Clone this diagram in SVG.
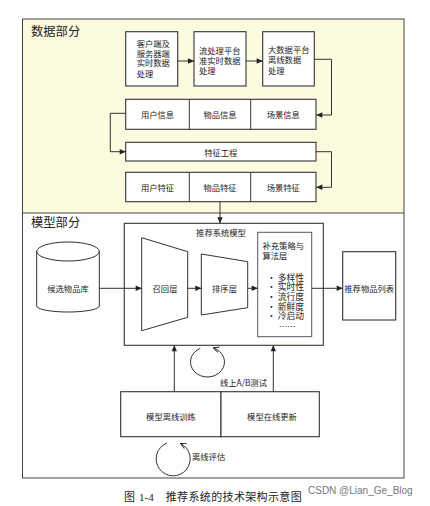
<svg xmlns="http://www.w3.org/2000/svg" width="430" height="506" viewBox="0 0 430 506">
<style>
.t{font-family:"Noto Sans CJK SC","Liberation Sans",sans-serif;font-size:8.3px;fill:#222}
.b{font-family:"Noto Sans CJK SC","Liberation Sans",sans-serif;font-size:8.8px;fill:#222}
.c{text-anchor:middle;dominant-baseline:central}
.h{font-family:"Noto Sans CJK SC","Liberation Sans",sans-serif;font-size:12.3px;fill:#222}
.box{fill:#fff;stroke:#333;stroke-width:1.1}
.ln{fill:none;stroke:#333;stroke-width:1}
.arr{fill:none;stroke:#333;stroke-width:1;marker-end:url(#ah)}
.cir{fill:none;stroke:#333;stroke-width:1;marker-end:url(#oh)}
</style>
<defs>
<marker id="ah" viewBox="0 0 10 10" refX="10" refY="5" markerUnits="userSpaceOnUse" markerWidth="7" markerHeight="6" orient="auto">
<path d="M0,0.5 L10,5 L0,9.5 z" fill="#222"/>
</marker>
<marker id="oh" viewBox="0 0 10 10" refX="9" refY="5" markerUnits="userSpaceOnUse" markerWidth="7" markerHeight="7" orient="auto">
<path d="M1,1 L9,5 L1,9" fill="none" stroke="#222" stroke-width="1.3"/>
</marker>
</defs>
<rect width="430" height="506" fill="#ffffff"/>
<g id="frame">
<rect x="22.5" y="19" width="381.5" height="194" fill="#fcfadf"/>
<rect x="22.5" y="213" width="381.5" height="265" fill="#fdfdfb"/>
<rect x="22.5" y="19" width="381.5" height="459" fill="none" stroke="#444" stroke-width="1"/>
<line x1="22.5" y1="213" x2="404" y2="213" stroke="#444" stroke-width="1"/>
<text class="h" x="31" y="35.5">数据部分</text>
<text class="h" x="31" y="226.5">模型部分</text>
</g>
<g id="client">
<rect class="box" x="125.7" y="31.7" width="52" height="54.3"/>
<text class="t" x="136.7" y="47">客户端及</text>
<text class="t" x="136.7" y="56.7">服务器端</text>
<text class="t" x="136.7" y="66.4">实时数据</text>
<text class="t" x="136.7" y="76.8">处理</text>
</g>
<g id="stream">
<rect class="box" x="194" y="31.7" width="52" height="54.3"/>
<text class="t" x="199" y="54">流处理平台</text>
<text class="t" x="199" y="64">准实时数据</text>
<text class="t" x="199" y="73.7">处理</text>
</g>
<g id="bigdata">
<rect class="box" x="262.7" y="31.7" width="51.6" height="54.3"/>
<text class="t" x="268" y="53">大数据平台</text>
<text class="t" x="268" y="63">离线数据</text>
<text class="t" x="268" y="73.7">处理</text>
</g>
<g id="info">
<rect class="box" x="125.7" y="99.3" width="190.3" height="30"/>
<line class="ln" x1="189.3" y1="99.3" x2="189.3" y2="129.3"/>
<line class="ln" x1="250.7" y1="99.3" x2="250.7" y2="129.3"/>
<text class="t c" x="157.5" y="114.3">用户信息</text>
<text class="t c" x="220" y="114.3">物品信息</text>
<text class="t c" x="283.3" y="114.3">场景信息</text>
</g>
<g id="feature-eng">
<rect class="box" x="125.7" y="142.3" width="190.3" height="18.7"/>
<text class="t c" x="220.8" y="151.7">特征工程</text>
</g>
<g id="features">
<rect class="box" x="125.7" y="172.3" width="190.3" height="29.4"/>
<line class="ln" x1="189.3" y1="172.3" x2="189.3" y2="201.7"/>
<line class="ln" x1="250.7" y1="172.3" x2="250.7" y2="201.7"/>
<text class="t c" x="157.5" y="187.3">用户特征</text>
<text class="t c" x="220" y="187.3">物品特征</text>
<text class="t c" x="283.3" y="187.3">场景特征</text>
</g>
<g id="model">
<rect class="box" x="124.3" y="223.3" width="199" height="122"/>
<text class="t c" x="221" y="231.7">推荐系统模型</text>
</g>
<g id="recall">
<path d="M141.7,237.7 L187.7,251.7 L187.7,317.3 L141.7,330.7 Z" fill="#fff" stroke="#333" stroke-width="1"/>
<text class="t c" x="165" y="288.3">召回层</text>
</g>
<g id="rank">
<path d="M201.3,254 L247.7,261.7 L247.7,307.7 L201.3,315 Z" fill="#fff" stroke="#333" stroke-width="1"/>
<text class="t c" x="224.5" y="288.3">排序层</text>
</g>
<g id="strategy">
<rect x="257.7" y="232.3" width="54" height="104.4" fill="#fff" stroke="#556" stroke-width="1"/>
<text class="t" x="262.5" y="249">补充策略与</text>
<text class="t" x="262.5" y="259">算法层</text>
<text class="b" x="267" y="280.5">· 多样性</text>
<text class="b" x="267" y="290.2">· 实时性</text>
<text class="b" x="267" y="299.9">· 流行度</text>
<text class="b" x="267" y="309.6">· 新鲜度</text>
<text class="b" x="267" y="319.3">· 冷启动</text>
<text class="t" x="279" y="329.5">……</text>
</g>
<g id="candidates">
<path d="M36.7,251.5 A31.3,9.5 0 0 1 99.3,251.5 L99.3,306 A31.3,6 0 0 1 36.7,306 Z" fill="#fff" stroke="#333" stroke-width="1"/>
<path d="M36.7,251.5 A31.3,9.5 0 0 0 99.3,251.5" fill="none" stroke="#333" stroke-width="1"/>
<text class="t c" x="68" y="288.3">候选物品库</text>
</g>
<g id="result">
<rect class="box" x="342.7" y="251.7" width="53" height="68.3"/>
<text class="t c" x="369.2" y="288.3">推荐物品列表</text>
</g>
<g id="offline-train">
<rect class="box" x="120.7" y="391.7" width="100.3" height="45"/>
<text class="t c" x="171" y="416">模型离线训练</text>
</g>
<g id="online-update">
<rect class="box" x="221" y="391.7" width="98.3" height="45"/>
<text class="t c" x="272" y="416">模型在线更新</text>
</g>
<g id="connectors">
<line class="arr" x1="177.7" y1="61" x2="194" y2="61"/>
<line class="arr" x1="246" y1="61" x2="262.7" y2="61"/>
<polyline class="arr" points="314.3,59.3 331.5,59.3 331.5,115 316.3,115"/>
<polyline class="arr" points="125.7,113.3 110.3,113.3 110.3,151.7 125.7,151.7"/>
<polyline class="arr" points="316,151.7 331.5,151.7 331.5,187.3 316.3,187.3"/>
<line class="arr" x1="220" y1="201.7" x2="220" y2="223.3"/>
<line class="arr" x1="99.3" y1="288.3" x2="141.7" y2="288.3"/>
<line class="arr" x1="187.7" y1="288.3" x2="201.3" y2="288.3"/>
<line class="arr" x1="247.7" y1="288.3" x2="257.7" y2="288.3"/>
<line class="arr" x1="311.7" y1="288.3" x2="342.7" y2="288.3"/>
<line class="arr" x1="174.3" y1="391.7" x2="174.3" y2="345.3"/>
<line class="arr" x1="273.3" y1="391.7" x2="273.3" y2="345.3"/>
<path class="cir" d="M200.3,348.4 A17,15 0 1 0 213.3,347.9"/>
<path class="cir" d="M167,443 A17,17 0 1 0 180.5,443.5"/>
</g>
<g id="labels">
<text class="t" x="220" y="386.3">线上A/B测试</text>
<text class="t" x="192" y="459.8">离线评估</text>
</g>
<g id="caption">
<text x="124" y="500.5" style="font-family:'Liberation Serif','Noto Sans CJK SC',serif;font-size:11px;fill:#222">图</text>
<text x="139" y="500.5" style="font-family:'Liberation Serif','Noto Sans CJK SC',serif;font-size:11px;fill:#222">1-4</text>
<text x="165.7" y="500.5" textLength="136" style="font-family:'Liberation Serif','Noto Sans CJK SC',serif;font-size:11px;fill:#222">推荐系统的技术架构示意图</text>
<text x="308" y="494.3" style="font-family:'Liberation Sans',sans-serif;font-size:10px;fill:#777">CSDN @Lian_Ge_Blog</text>
</g>
</svg>
